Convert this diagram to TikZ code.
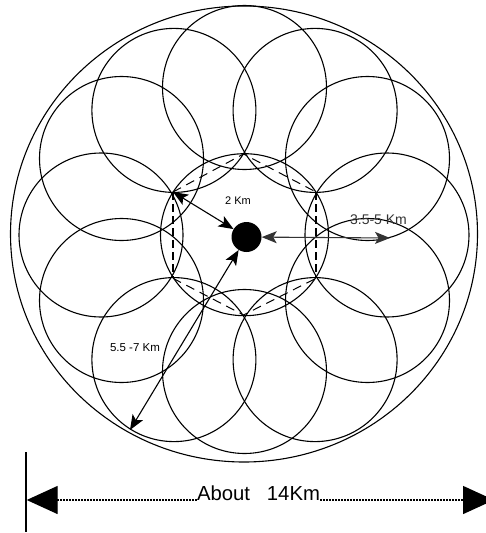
\documentclass[tikz,border=0pt]{standalone}
\usepackage{fontspec}
\setmainfont{Liberation Sans}
\usetikzlibrary{arrows.meta,calc}
\begin{document}
\begin{tikzpicture}[x=1pt,y=-1pt,
  cell/.style={line width=1.1pt},
  hexdash/.style={line width=1pt, dash pattern=on 9pt off 6pt},
  vdash/.style={line width=2pt, dash pattern=on 8pt off 4pt},
  radarrow/.style={{Stealth[length=15pt,width=12pt,inset=3.5pt]}-{Stealth[length=15pt,width=12pt,inset=3.5pt]}, line width=1.1pt},
  dotline/.style={line width=1.4pt, dash pattern=on 1.4pt off 1.6pt},
  bigtip/.style={-{Triangle[length=31pt,width=28pt]}},
  lbl/.style={inner sep=0pt}
]
\useasboundingbox (0,0) rectangle (486,533);
\clip (0,0) rectangle (486,533);

% outer boundary
\coordinate (oc) at (244,234);
\draw[cell] (oc) ellipse [x radius=233.5pt, y radius=228pt];

% twelve surrounding cells
\foreach \cx/\cy in {173.9/110.4, 315.1/110.4, 173.9/359.6, 315.1/359.6, 101/235, 387/235,
                     244.5/87.5, 244.5/371.5, 367.5/158.5, 121.5/158.5, 121.5/300.5, 367.5/300.5}
  \draw[cell] (\cx,\cy) circle [radius=82pt];

% central cell
\coordinate (ic) at (244.5,234.7);
\draw[cell] (ic) ellipse [x radius=84pt, y radius=81pt];

% hexagon vertices
\coordinate (vT)  at (243.5,154);
\coordinate (vUR) at (316,192);
\coordinate (vLR) at (316,278.3);
\coordinate (vB)  at (243.5,315);
\coordinate (vLL) at (173,278.3);
\coordinate (vUL) at (173,192);

\draw[hexdash] (vUL) -- (vT) -- (vUR);
\draw[hexdash] (vLL) -- (vB) -- (vLR);
\draw[vdash] (vUL) -- (vLL);
\draw[vdash] (vUR) -- (vLR);

% base station
\node[circle, fill=black, minimum size=30pt, inner sep=0pt] (dot) at (246.5,237) {};

% radius arrows
\coordinate (hEnd) at (390,238);
\coordinate (dEnd) at (130,430);
\draw[radarrow] (dot) -- (vUL);
\draw[radarrow, black!80] (dot) -- (hEnd);
\draw[radarrow] (dot) -- (dEnd);

% labels
\node[lbl, font=\fontsize{11}{13}\selectfont] (l2) at (238,201) {2 Km};
\node[lbl, font=\fontsize{14}{16}\selectfont, text=black!80] (l35) at (378.5,220) {3.5-5 Km};
\node[lbl, font=\fontsize{11.5}{13}\selectfont] (l55) at (135,348) {5.5 -7 Km};

% dimension line
\coordinate (vtop) at (26,452);
\coordinate (vbot) at (26,532);
\draw[line width=1.2pt] (vtop) -- (vbot);
\node[lbl, anchor=base, font=\fontsize{20.3}{24}\selectfont] (dimtxt) at (258.5,500) {About\ \ \ 14Km};
\coordinate (dimL) at (26.7,500);
\coordinate (dimR) at (494,500);
\draw[dotline, bigtip] (dimtxt.base west) -- (dimL);
\draw[dotline, bigtip] (dimtxt.base east) -- (dimR);
\end{tikzpicture}
\end{document}
